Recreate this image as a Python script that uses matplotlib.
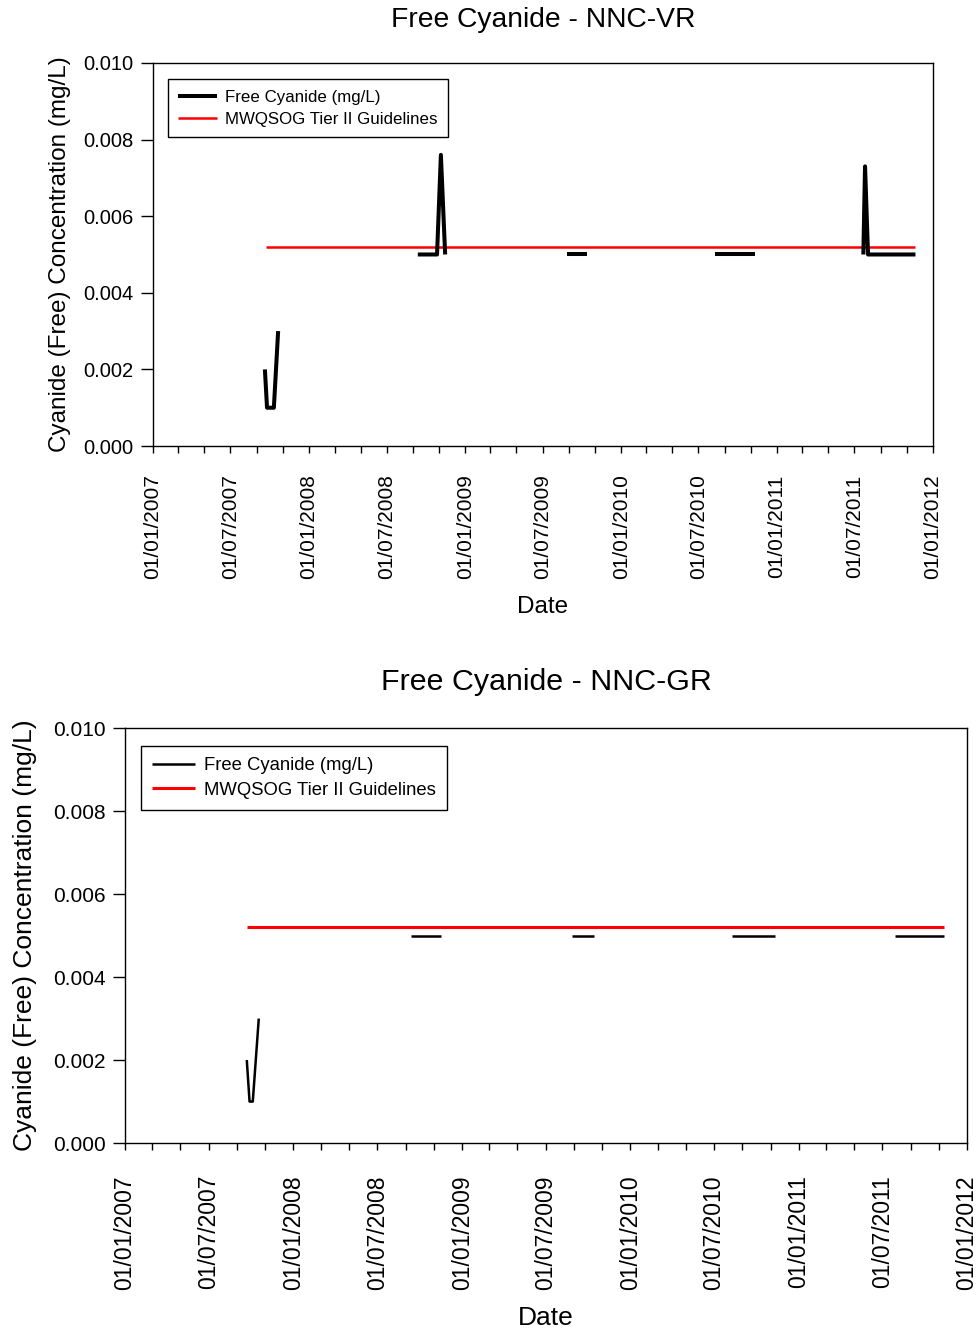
import matplotlib
matplotlib.use('Agg')
import matplotlib.pyplot as plt
import matplotlib.dates as mdates
import numpy as np

plt.rcParams['font.family'] = ['Liberation Sans', 'DejaVu Sans']

# NNC-VR samples (grouped by sampling campaign)
vr_dates = ['2007-09-20', '2007-09-25', '2007-10-11', '2007-10-21',
            '2008-09-12', '2008-10-27', '2008-11-05', '2008-11-15',
            '2009-08-27', '2009-10-13',
            '2010-08-09', '2010-11-11',
            '2011-07-22', '2011-07-26', '2011-08-02', '2011-11-21']
vr_values = [0.002, 0.001, 0.001, 0.003,
             0.005, 0.005, 0.0076, 0.005,
             0.005, 0.005,
             0.005, 0.005,
             0.005, 0.0073, 0.005, 0.005]
vr_campaign = [1, 1, 1, 1, 2, 2, 2, 2, 3, 3, 4, 4, 5, 5, 5, 5]
vr_guide_dates = ['2007-09-22', '2011-11-21']
vr_guide_values = [0.0052, 0.0052]

# NNC-GR samples
gr_dates = ['2007-09-22', '2007-09-28', '2007-10-05', '2007-10-18',
            '2008-09-12', '2008-11-17',
            '2009-08-27', '2009-10-14',
            '2010-08-09', '2010-11-11',
            '2011-07-29', '2011-11-13']
gr_values = [0.002, 0.001, 0.001, 0.003,
             0.005, 0.005,
             0.005, 0.005,
             0.005, 0.005,
             0.005, 0.005]
gr_campaign = [1, 1, 1, 1, 2, 2, 3, 3, 4, 4, 5, 5]
gr_guide_dates = ['2007-09-22', '2011-11-13']
gr_guide_values = [0.0052, 0.0052]

yticks = [0.000, 0.002, 0.004, 0.006, 0.008, 0.010]
series_label = 'Free Cyanide (mg/L)'
guide_label = 'MWQSOG Tier II Guidelines'


def cyanide_panel(ax, title, dates, values, campaign, gdates, gvalues,
                  lw_data, lw_guide, fs_tick, fs_xtick, xpad, fs_label,
                  fs_title, fs_leg):
    dates = np.array(dates, dtype='datetime64[D]')
    values = np.array(values)
    campaign = np.array(campaign)
    first = True
    for c in np.unique(campaign):
        m = campaign == c
        ax.plot(dates[m], values[m], color='black', lw=lw_data,
                solid_capstyle='butt', solid_joinstyle='round',
                label=series_label if first else None, zorder=3)
        first = False
    ax.plot(np.array(gdates, dtype='datetime64[D]'), gvalues, color='red',
            lw=lw_guide, solid_capstyle='butt', label=guide_label, zorder=2)

    ax.set_xlim(np.datetime64('2007-01-01'), np.datetime64('2012-01-01'))
    ax.set_ylim(0, 0.010)
    ax.set_yticks(yticks)
    ax.yaxis.set_major_formatter(matplotlib.ticker.FormatStrFormatter('%.3f'))
    ax.xaxis.set_major_locator(mdates.MonthLocator(bymonth=[1, 7]))
    ax.xaxis.set_minor_locator(mdates.MonthLocator(bymonth=[3, 5, 9, 11]))
    ax.xaxis.set_major_formatter(mdates.DateFormatter('%d/%m/%Y'))
    ax.tick_params(axis='x', which='both', direction='out', length=5,
                   width=1, labelsize=fs_xtick, pad=xpad, rotation=90)
    ax.tick_params(axis='y', direction='out', length=9, width=1,
                   labelsize=fs_tick, pad=5)
    for s in ax.spines.values():
        s.set_linewidth(1)

    ax.set_xlabel('Date', fontsize=fs_label)
    ax.xaxis.set_label_coords(0.5, -0.392)
    ax.set_ylabel('Cyanide (Free) Concentration (mg/L)', fontsize=fs_label)
    ax.yaxis.set_label_coords(-0.105, 0.5)
    ax.text(0.5, 1.112, title, transform=ax.transAxes, ha='center',
            va='center', fontsize=fs_title)

    leg = ax.legend(loc='upper left', bbox_to_anchor=(0.019, 0.957),
                    borderaxespad=0, fancybox=False, framealpha=1,
                    edgecolor='black', fontsize=fs_leg, handlelength=2.3,
                    handletextpad=0.5, labelspacing=0.42, borderpad=0.6)
    leg.get_frame().set_linewidth(1)


fig = plt.figure(figsize=(9.8, 13.31), dpi=100)
ax1 = fig.add_axes([0.1561, 0.6649, 0.7959, 0.2878])
ax2 = fig.add_axes([0.1276, 0.1412, 0.8592, 0.3118])

cyanide_panel(ax1, 'Free Cyanide - NNC-VR', vr_dates, vr_values, vr_campaign,
              vr_guide_dates, vr_guide_values, 2.9, 1.8,
              14.5, 15, 15.5, 17.5, 20.3, 12.2)
cyanide_panel(ax2, 'Free Cyanide - NNC-GR', gr_dates, gr_values, gr_campaign,
              gr_guide_dates, gr_guide_values, 1.8, 2.2,
              15, 16.5, 18, 19, 21.9, 13.3)

fig.savefig('out.png', dpi=100)
